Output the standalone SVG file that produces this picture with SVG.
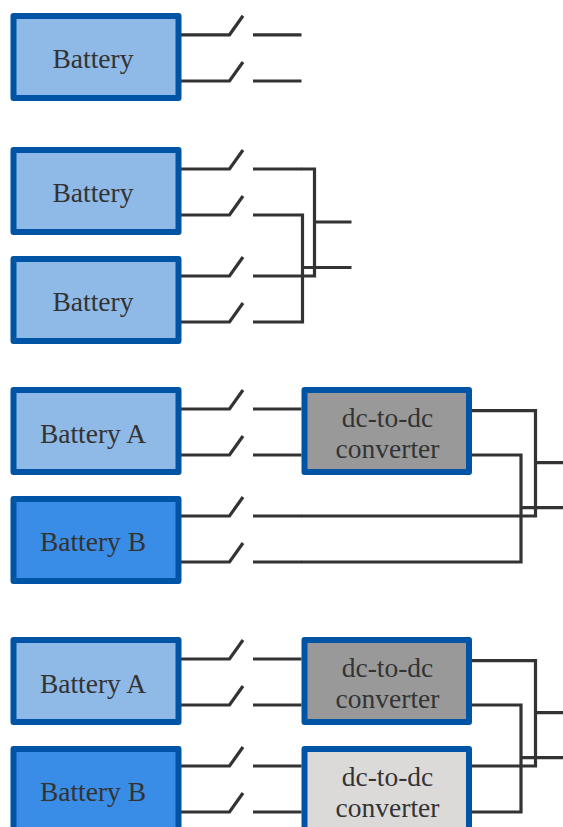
<svg xmlns="http://www.w3.org/2000/svg" xmlns:xlink="http://www.w3.org/1999/xlink" width="563" height="827" viewBox="0 0 563 827">
<style>
.box{stroke:#0054a6;stroke-width:6;stroke-linejoin:round}
.a{fill:#8fb9e6}.b{fill:#3a8de6}.g{fill:#999999}.l{fill:#dbdad9}
text{font-family:"Liberation Serif","Times New Roman",serif;font-size:27.500px;fill:#333333;text-anchor:middle}
.w{fill:none;stroke:#333333;stroke-width:3.200;stroke-linejoin:miter}
</style>
<defs>
<path id="sw" class="w" d="M181 0H229.500L243 -19M253 0H301.500"/>
</defs>
<rect width="563" height="827" fill="#ffffff"/>
<g id="connectors">
<use xlink:href="#sw" y="34.800"/><use xlink:href="#sw" y="81"/>
<use xlink:href="#sw" y="169"/><use xlink:href="#sw" y="215"/><use xlink:href="#sw" y="276"/><use xlink:href="#sw" y="322"/>
<path class="w" d="M301 169H314.500V276H301M301 215H302.500V322H301M314.500 222H351.500M302.500 267.500H351.500"/>
<use xlink:href="#sw" y="409"/><use xlink:href="#sw" y="455"/><use xlink:href="#sw" y="516"/><use xlink:href="#sw" y="562"/>
<path class="w" d="M472 410.700H535.500V516H301M472 455H521V562H301M535.500 462.700H563M521 507.700H563"/>
<use xlink:href="#sw" y="659"/><use xlink:href="#sw" y="705"/><use xlink:href="#sw" y="766"/><use xlink:href="#sw" y="812"/>
<path class="w" d="M472 660.700H535.500V766H472M472 705H521V812H472M535.500 712.700H563M521 757.700H563"/>
</g>
<g id="battery-1"><rect class="box a" x="13.500" y="16" width="165" height="82"/><text x="93" y="68">Battery</text></g>
<g id="battery-2"><rect class="box a" x="13.500" y="150" width="165" height="82"/><text x="93" y="202">Battery</text></g>
<g id="battery-3"><rect class="box a" x="13.500" y="259" width="165" height="82"/><text x="93" y="311">Battery</text></g>
<g id="battery-a-1"><rect class="box a" x="13.500" y="390" width="165" height="82"/><text x="93" y="443">Battery A</text></g>
<g id="battery-b-1"><rect class="box b" x="13.500" y="499" width="165" height="82"/><text x="93" y="551">Battery B</text></g>
<g id="converter-1"><rect class="box g" x="304.500" y="390" width="164.500" height="82"/><text x="387.500" y="427">dc-to-dc</text><text x="387.500" y="458">converter</text></g>
<g id="battery-a-2"><rect class="box a" x="13.500" y="640" width="165" height="82"/><text x="93" y="693">Battery A</text></g>
<g id="battery-b-2"><rect class="box b" x="13.500" y="749" width="165" height="82"/><text x="93" y="801">Battery B</text></g>
<g id="converter-2"><rect class="box g" x="304.500" y="640" width="164.500" height="82"/><text x="387.500" y="677">dc-to-dc</text><text x="387.500" y="708">converter</text></g>
<g id="converter-3"><rect class="box l" x="304.500" y="749" width="164.500" height="82"/><text x="387.500" y="786">dc-to-dc</text><text x="387.500" y="817">converter</text></g>
</svg>
